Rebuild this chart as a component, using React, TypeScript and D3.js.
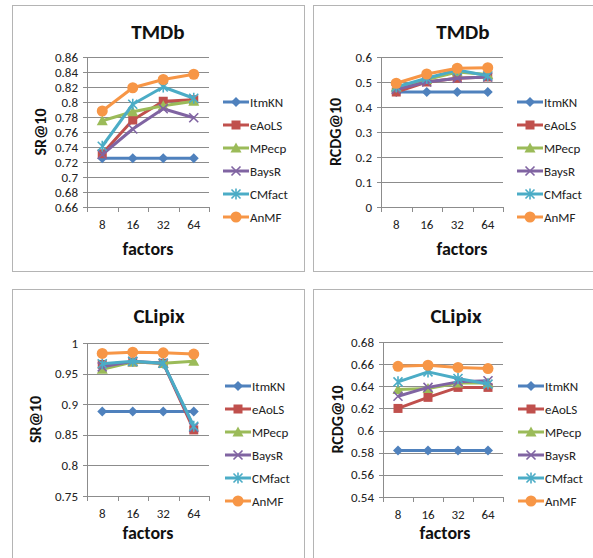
import React from 'react'
import * as d3 from 'd3'

const factors = ['8', '16', '32', '64']
const seriesNames = ['ItmKN', 'eAoLS', 'MPecp', 'BaysR', 'CMfact', 'AnMF']
const seriesColors = ['#4f81bd', '#c0504d', '#9bbb59', '#8064a2', '#4bacc6', '#f79646']
const seriesMarkers = ['diamond', 'square', 'triangle', 'cross', 'star', 'circle']

// rows follow seriesNames, columns follow factors
const tmdbSR = [
  [0.725, 0.725, 0.725, 0.725],
  [0.731, 0.776, 0.801, 0.803],
  [0.775, 0.787, 0.795, 0.801],
  [0.730, 0.764, 0.791, 0.779],
  [0.741, 0.797, 0.820, 0.805],
  [0.788, 0.819, 0.830, 0.837]
]
const tmdbRCDG = [
  [0.460, 0.460, 0.460, 0.460],
  [0.460, 0.500, 0.515, 0.520],
  [0.480, 0.510, 0.540, 0.530],
  [0.470, 0.500, 0.515, 0.520],
  [0.480, 0.515, 0.548, 0.525],
  [0.495, 0.532, 0.555, 0.557]
]
const clipixSR = [
  [0.888, 0.888, 0.888, 0.888],
  [0.965, 0.969, 0.967, 0.858],
  [0.957, 0.969, 0.967, 0.970],
  [0.961, 0.970, 0.967, 0.862],
  [0.966, 0.970, 0.967, 0.864],
  [0.983, 0.985, 0.984, 0.982]
]
const clipixRCDG = [
  [0.582, 0.582, 0.582, 0.582],
  [0.620, 0.630, 0.639, 0.639],
  [0.637, 0.638, 0.643, 0.643],
  [0.631, 0.639, 0.644, 0.645],
  [0.644, 0.653, 0.647, 0.642],
  [0.658, 0.659, 0.657, 0.656]
]

const tmdbSRTicks = [0.66, 0.68, 0.7, 0.72, 0.74, 0.76, 0.78, 0.8, 0.82, 0.84, 0.86]
const tmdbRCDGTicks = [0, 0.1, 0.2, 0.3, 0.4, 0.5, 0.6]
const clipixSRTicks = [0.75, 0.8, 0.85, 0.9, 0.95, 1]
const clipixRCDGTicks = [0.54, 0.56, 0.58, 0.6, 0.62, 0.64, 0.66, 0.68]

const FONT = 'Carlito, Calibri, Lato, sans-serif'
const GRID = '#8c8c8c'

function Marker({ kind, cx, cy, color }: { kind: string; cx: number; cy: number; color: string }) {
  const s = 5
  switch (kind) {
    case 'diamond':
      return <path d={`M${cx},${cy - s}L${cx + s},${cy}L${cx},${cy + s}L${cx - s},${cy}Z`} fill={color} />
    case 'square':
      return <rect x={cx - 4.5} y={cy - 4.5} width={9} height={9} fill={color} />
    case 'triangle':
      return <path d={`M${cx},${cy - 5.5}L${cx + 5.5},${cy + 4.5}L${cx - 5.5},${cy + 4.5}Z`} fill={color} />
    case 'cross':
      return (
        <path d={`M${cx - 4.5},${cy - 4.5}L${cx + 4.5},${cy + 4.5}M${cx + 4.5},${cy - 4.5}L${cx - 4.5},${cy + 4.5}`}
          stroke={color} strokeWidth={1.6} fill="none" />
      )
    case 'star':
      return (
        <path d={`M${cx - 4.5},${cy - 4.5}L${cx + 4.5},${cy + 4.5}M${cx + 4.5},${cy - 4.5}L${cx - 4.5},${cy + 4.5}M${cx},${cy - 5.5}L${cx},${cy + 5.5}`}
          stroke={color} strokeWidth={1.6} fill="none" />
      )
    default:
      return <circle cx={cx} cy={cy} r={5.5} fill={color} />
  }
}

interface PanelProps {
  x: number
  y: number
  w: number
  h: number
  title: string
  yLabel: string
  data: number[][]
  ticks: number[]
  plotLeft: number
  plotTop: number
  plotW: number
  plotH: number
  titleX: number
  factorsX: number
  yLabelX: number
  legendX: number
}

function Panel(p: PanelProps) {
  const xs = d3.scaleBand<string>().domain(factors).range([0, p.plotW])
  const ys = d3.scaleLinear().domain([p.ticks[0], p.ticks[p.ticks.length - 1]]).range([p.plotH, 0])
  const cx = (f: string) => (xs(f) as number) + xs.bandwidth() / 2
  const line = d3.line<number>().x((_, i) => cx(factors[i])).y(d => ys(d))
  const fmt = (v: number) => String(+v.toFixed(2))
  const legendRow = d3.scalePoint<string>().domain(seriesNames).range([97, 212])

  return (
    <g transform={`translate(${p.x},${p.y})`}>
      <rect x={0.5} y={0.5} width={p.w} height={p.h} fill="#fff" stroke="#b4b4b4" />
      <text x={p.titleX} y={34} textAnchor="middle" fontSize={21} fontWeight="bold" fill="#111">{p.title}</text>

      <g transform={`translate(${p.plotLeft},${p.plotTop})`}>
        {p.ticks.map(t => (
          <g key={t}>
            <line x1={-4} x2={p.plotW} y1={Math.round(ys(t)) + 0.5} y2={Math.round(ys(t)) + 0.5} stroke={GRID} />
            <text x={-9} y={ys(t) + 4.5} textAnchor="end" fontSize={13} fill="#222">{fmt(t)}</text>
          </g>
        ))}
        <line x1={0.5} x2={0.5} y1={0} y2={p.plotH} stroke={GRID} />
        {[...factors.map(f => xs(f) as number), p.plotW].map((bx, i) => (
          <line key={i} x1={Math.round(bx) + 0.5} x2={Math.round(bx) + 0.5} y1={p.plotH} y2={p.plotH + 5} stroke={GRID} />
        ))}
        {factors.map(f => (
          <text key={f} x={cx(f)} y={p.plotH + 22} textAnchor="middle" fontSize={13} fill="#222">{f}</text>
        ))}

        {p.data.map((vals, si) => (
          <g key={seriesNames[si]}>
            <path d={line(vals) || ''} fill="none" stroke={seriesColors[si]} strokeWidth={3} strokeLinejoin="round" />
            {vals.map((v, i) => (
              <Marker key={i} kind={seriesMarkers[si]} cx={cx(factors[i])} cy={ys(v)} color={seriesColors[si]} />
            ))}
          </g>
        ))}
      </g>

      <text x={p.factorsX} y={250} textAnchor="middle" fontSize={18} fontWeight="bold" fill="#111">factors</text>
      <text transform={`translate(${p.yLabelX},${p.plotTop + p.plotH / 2}) rotate(-90)`} textAnchor="middle"
        fontSize={16} fontWeight="bold" fill="#111">{p.yLabel}</text>

      {seriesNames.map((n, si) => {
        const ly = legendRow(n) as number
        return (
          <g key={n}>
            <line x1={p.legendX} x2={p.legendX + 26} y1={ly} y2={ly} stroke={seriesColors[si]} strokeWidth={3} />
            <Marker kind={seriesMarkers[si]} cx={p.legendX + 13} cy={ly} color={seriesColors[si]} />
            <text x={p.legendX + 27} y={ly + 4.5} fontSize={13} fill="#222">{n}</text>
          </g>
        )
      })}
    </g>
  )
}

export default function App() {
  return (
    <svg width={593} height={558} style={{ position: 'absolute', left: 0, top: 0, background: '#fff' }}
      fontFamily={FONT}>
      <rect width={593} height={558} fill="#fff" />
      <Panel x={12} y={5} w={292} h={266} title="TMDb" yLabel="SR@10" data={tmdbSR} ticks={tmdbSRTicks}
        plotLeft={75} plotTop={52} plotW={122} plotH={150} titleX={146} factorsX={136} yLabelX={34} legendX={211} />
      <Panel x={313} y={5} w={290} h={266} title="TMDb" yLabel="RCDG@10" data={tmdbRCDG} ticks={tmdbRCDGTicks}
        plotLeft={68} plotTop={52} plotW={122} plotH={150} titleX={150} factorsX={149} yLabelX={28} legendX={204} />
      <Panel x={12} y={289} w={292} h={290} title="CLipix" yLabel="SR@10" data={clipixSR} ticks={clipixSRTicks}
        plotLeft={75} plotTop={54} plotW={122} plotH={153} titleX={147} factorsX={136} yLabelX={29} legendX={213} />
      <Panel x={313} y={289} w={290} h={290} title="CLipix" yLabel="RCDG@10" data={clipixRCDG} ticks={clipixRCDGTicks}
        plotLeft={70} plotTop={53} plotW={120} plotH={155} titleX={143} factorsX={132} yLabelX={30} legendX={205} />
    </svg>
  )
}
